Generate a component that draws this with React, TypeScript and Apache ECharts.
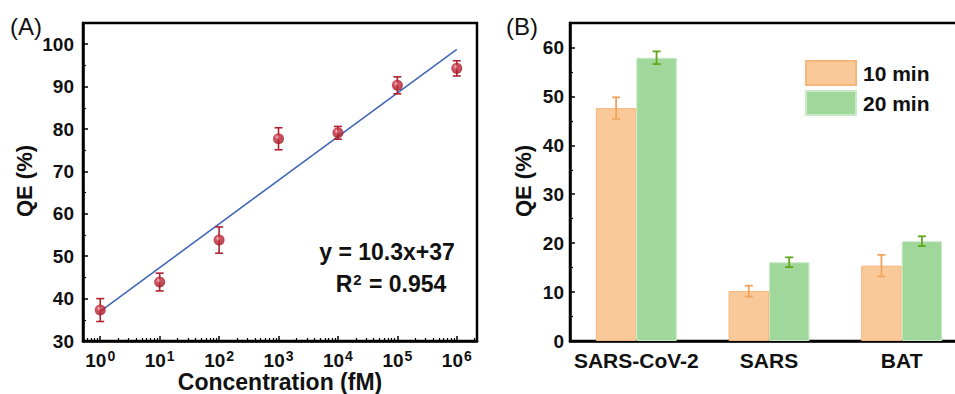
import React, { useEffect, useRef } from 'react';
import * as echarts from 'echarts';

// ---------- Panel A data ----------
const logConc = [0, 1, 2, 3, 4, 5, 6]; // log10 of concentration (fM)
const qeA = [37.3, 43.9, 53.8, 77.7, 79.1, 90.3, 94.3];
const errA = [2.7, 2.1, 3.1, 2.6, 1.5, 2.0, 1.8];
const fitLine = [
  [0, 37],
  [6, 98.8],
];
const xMajorA = [0, 1, 2, 3, 4, 5, 6];
const yMajorA = [30, 40, 50, 60, 70, 80, 90, 100];
const yMinorA = [35, 45, 55, 65, 75, 85, 95];

// ---------- Panel B data ----------
const categories = ['SARS-CoV-2', 'SARS', 'BAT'];
const qe10 = [47.6, 10.2, 15.4];
const err10 = [2.2, 1.1, 2.2];
const qe20 = [57.9, 16.1, 20.4];
const err20 = [1.3, 1.0, 1.0];
const yMajorB = [0, 10, 20, 30, 40, 50, 60];
const yMinorB = [5, 15, 25, 35, 45, 55];

const FONT = '"Liberation Sans", Arial, Helvetica, sans-serif';

// log minor tick positions (2..9 per decade), within the visible axis span
const xMinorA: number[] = [];
for (let n = -1; n <= 6; n++) {
  for (let k = 2; k <= 9; k++) {
    const v = n + Math.log10(k);
    if (v > -0.29 && v < 6.34) xMinorA.push(v);
  }
}

const BAR_FRAC = 0.305;

function errRenderA(params: any, api: any) {
  const x = api.value(0);
  const y = api.value(1);
  const e = api.value(2);
  const hi = api.coord([x, y + e]);
  const lo = api.coord([x, y - e]);
  const cap = 4;
  const style = { stroke: '#B0222F', lineWidth: 1.6 };
  return {
    type: 'group',
    children: [
      { type: 'line', shape: { x1: hi[0], y1: hi[1], x2: lo[0], y2: lo[1] }, style },
      { type: 'line', shape: { x1: hi[0] - cap, y1: hi[1], x2: hi[0] + cap, y2: hi[1] }, style },
      { type: 'line', shape: { x1: lo[0] - cap, y1: lo[1], x2: lo[0] + cap, y2: lo[1] }, style },
    ],
  };
}

function makeErrRenderB(side: number, color: string) {
  return function (params: any, api: any) {
    const idx = api.value(0);
    const y = api.value(1);
    const e = api.value(2);
    const band = api.size([1, 0])[0];
    const off = side * band * BAR_FRAC * 0.5;
    const hi = api.coord([idx, y + e]);
    const lo = api.coord([idx, y - e]);
    const cx = hi[0] + off;
    const cap = 4;
    const style = { stroke: color, lineWidth: 1.8 };
    return {
      type: 'group',
      children: [
        { type: 'line', shape: { x1: cx, y1: hi[1], x2: cx, y2: lo[1] }, style },
        { type: 'line', shape: { x1: cx - cap, y1: hi[1], x2: cx + cap, y2: hi[1] }, style },
        { type: 'line', shape: { x1: cx - cap, y1: lo[1], x2: cx + cap, y2: lo[1] }, style },
      ],
    };
  };
}

const axisLineStyle = { color: '#000', width: 2.5 };
const tickLabelStyle = {
  fontFamily: FONT,
  fontWeight: 'bold' as const,
  fontSize: 19,
  color: '#111',
};

export default function App() {
  const ref = useRef<HTMLDivElement>(null);

  useEffect(() => {
    const chart = echarts.init(ref.current!, null, { renderer: 'svg' });

    const option: any = {
      animation: false,
      backgroundColor: '#fff',
      grid: [
        {
          left: 83,
          top: 23,
          width: 394,
          height: 318,
          show: true,
          borderColor: '#000',
          borderWidth: 2.5,
          containLabel: false,
        },
        {
          left: 570,
          top: 23,
          width: 398,
          height: 318,
          show: true,
          borderColor: '#000',
          borderWidth: 2.5,
          containLabel: false,
        },
      ],
      xAxis: [
        {
          type: 'value',
          gridIndex: 0,
          min: -0.29,
          max: 6.34,
          position: 'bottom',
          axisLine: { show: true, onZero: false, lineStyle: axisLineStyle },
          axisTick: {
            show: true,
            inside: true,
            length: 5,
            lineStyle: { color: '#000', width: 1.5 },
            customValues: xMajorA,
          },
          axisLabel: {
            ...tickLabelStyle,
            margin: 8,
            customValues: xMajorA,
            formatter: (v: number) => '10{sup|' + Math.round(v) + '}',
            rich: {
              sup: {
                fontFamily: FONT,
                fontWeight: 'bold',
                fontSize: 14,
                color: '#111',
                verticalAlign: 'top',
                padding: [0, 0, 8, 1],
              },
            },
          },
          splitLine: { show: false },
        },
        {
          type: 'value',
          gridIndex: 0,
          min: -0.29,
          max: 6.34,
          position: 'bottom',
          axisLine: { show: false, onZero: false },
          axisTick: {
            show: true,
            inside: true,
            length: 3,
            lineStyle: { color: '#000', width: 1.2 },
            customValues: xMinorA,
          },
          axisLabel: { show: false },
          splitLine: { show: false },
        },
        {
          type: 'category',
          gridIndex: 1,
          data: categories,
          position: 'bottom',
          axisLine: { show: true, onZero: false, lineStyle: axisLineStyle },
          axisTick: { show: false },
          axisLabel: { ...tickLabelStyle, fontSize: 21, margin: 9, interval: 0 },
          splitLine: { show: false },
        },
      ],
      yAxis: [
        {
          type: 'value',
          gridIndex: 0,
          min: 30,
          max: 105,
          position: 'left',
          axisLine: { show: true, onZero: false, lineStyle: axisLineStyle },
          axisTick: {
            show: true,
            inside: true,
            length: 5,
            lineStyle: { color: '#000', width: 1.5 },
            customValues: yMajorA,
          },
          axisLabel: { ...tickLabelStyle, margin: 9, customValues: yMajorA },
          splitLine: { show: false },
        },
        {
          type: 'value',
          gridIndex: 0,
          min: 30,
          max: 105,
          position: 'left',
          axisLine: { show: false, onZero: false },
          axisTick: {
            show: true,
            inside: true,
            length: 3,
            lineStyle: { color: '#000', width: 1.2 },
            customValues: yMinorA,
          },
          axisLabel: { show: false },
          splitLine: { show: false },
        },
        {
          type: 'value',
          gridIndex: 1,
          min: 0,
          max: 65,
          position: 'left',
          axisLine: { show: true, onZero: false, lineStyle: axisLineStyle },
          axisTick: {
            show: true,
            inside: true,
            length: 5,
            lineStyle: { color: '#000', width: 1.5 },
            customValues: yMajorB,
          },
          axisLabel: { ...tickLabelStyle, margin: 6, customValues: yMajorB },
          splitLine: { show: false },
        },
        {
          type: 'value',
          gridIndex: 1,
          min: 0,
          max: 65,
          position: 'left',
          axisLine: { show: false, onZero: false },
          axisTick: {
            show: true,
            inside: true,
            length: 3,
            lineStyle: { color: '#000', width: 1.2 },
            customValues: yMinorB,
          },
          axisLabel: { show: false },
          splitLine: { show: false },
        },
      ],
      legend: {
        data: ['10 min', '20 min'],
        orient: 'vertical',
        left: 805,
        top: 60,
        itemWidth: 50,
        itemHeight: 24,
        itemGap: 4,
        icon: 'rect',
        padding: 0,
        textStyle: {
          fontFamily: FONT,
          fontWeight: 'bold',
          fontSize: 21,
          color: '#111',
          padding: [0, 0, 0, 2],
        },
      },
      series: [
        {
          name: 'fit',
          type: 'line',
          xAxisIndex: 0,
          yAxisIndex: 0,
          data: fitLine,
          symbol: 'none',
          lineStyle: { color: '#4468B8', width: 1.6 },
          z: 2,
        },
        {
          name: 'errA',
          type: 'custom',
          xAxisIndex: 0,
          yAxisIndex: 0,
          data: logConc.map((x, i) => [x, qeA[i], errA[i]]),
          renderItem: errRenderA,
          z: 3,
        },
        {
          name: 'QE A',
          type: 'scatter',
          xAxisIndex: 0,
          yAxisIndex: 0,
          data: logConc.map((x, i) => [x, qeA[i]]),
          symbol: 'circle',
          symbolSize: 11,
          itemStyle: {
            color: {
              type: 'radial',
              x: 0.4,
              y: 0.35,
              r: 0.65,
              colorStops: [
                { offset: 0, color: '#F2B3B8' },
                { offset: 0.35, color: '#C42A3A' },
                { offset: 1, color: '#9C1824' },
              ],
            },
          },
          z: 4,
        },
        {
          name: '10 min',
          type: 'bar',
          xAxisIndex: 2,
          yAxisIndex: 2,
          data: qe10,
          barWidth: BAR_FRAC * 100 + '%',
          barGap: '0%',
          itemStyle: { color: '#FAC999', borderColor: '#F7B57A', borderWidth: 1 },
        },
        {
          name: '20 min',
          type: 'bar',
          xAxisIndex: 2,
          yAxisIndex: 2,
          data: qe20,
          barWidth: BAR_FRAC * 100 + '%',
          barGap: '0%',
          itemStyle: { color: '#A0D89C', borderColor: '#C9EAC5', borderWidth: 1 },
        },
        {
          name: 'err10',
          type: 'custom',
          xAxisIndex: 2,
          yAxisIndex: 2,
          data: qe10.map((v, i) => [i, v, err10[i]]),
          renderItem: makeErrRenderB(-1, '#F4A35E'),
          z: 5,
        },
        {
          name: 'err20',
          type: 'custom',
          xAxisIndex: 2,
          yAxisIndex: 2,
          data: qe20.map((v, i) => [i, v, err20[i]]),
          renderItem: makeErrRenderB(1, '#5FA71B'),
          z: 5,
        },
      ],
      graphic: [
        {
          type: 'text',
          x: 26,
          y: 26,
          style: {
            text: '(A)',
            fontFamily: FONT,
            fontSize: 24,
            fill: '#111',
            textAlign: 'center',
            textVerticalAlign: 'middle',
          },
        },
        {
          type: 'text',
          x: 522,
          y: 26,
          style: {
            text: '(B)',
            fontFamily: FONT,
            fontSize: 24,
            fill: '#111',
            textAlign: 'center',
            textVerticalAlign: 'middle',
          },
        },
        {
          type: 'text',
          x: 24,
          y: 181,
          rotation: Math.PI / 2,
          style: {
            text: 'QE (%)',
            fontFamily: FONT,
            fontWeight: 'bold',
            fontSize: 22,
            fill: '#111',
            textAlign: 'center',
            textVerticalAlign: 'middle',
          },
        },
        {
          type: 'text',
          x: 523,
          y: 181,
          rotation: Math.PI / 2,
          style: {
            text: 'QE (%)',
            fontFamily: FONT,
            fontWeight: 'bold',
            fontSize: 22,
            fill: '#111',
            textAlign: 'center',
            textVerticalAlign: 'middle',
          },
        },
        {
          type: 'text',
          x: 280,
          y: 382,
          style: {
            text: 'Concentration (fM)',
            fontFamily: FONT,
            fontWeight: 'bold',
            fontSize: 23,
            fill: '#111',
            textAlign: 'center',
            textVerticalAlign: 'middle',
          },
        },
        {
          type: 'text',
          x: 387,
          y: 252,
          style: {
            text: 'y = 10.3x+37',
            fontFamily: FONT,
            fontWeight: 'bold',
            fontSize: 23,
            fill: '#111',
            textAlign: 'center',
            textVerticalAlign: 'middle',
          },
        },
        {
          type: 'text',
          x: 391,
          y: 284,
          style: {
            text: 'R{sup|2} = 0.954',
            fontFamily: FONT,
            fontWeight: 'bold',
            fontSize: 23,
            fill: '#111',
            textAlign: 'center',
            textVerticalAlign: 'middle',
            rich: {
              sup: {
                fontFamily: FONT,
                fontWeight: 'bold',
                fontSize: 15,
                fill: '#111',
                verticalAlign: 'top',
                padding: [0, 1, 9, 1],
              },
            },
          },
        },
      ],
    };

    chart.setOption(option);
    return () => chart.dispose();
  }, []);

  return (
    <div
      ref={ref}
      style={{ position: 'fixed', left: 0, top: 0, width: 980, height: 394, background: '#fff' }}
    />
  );
}
